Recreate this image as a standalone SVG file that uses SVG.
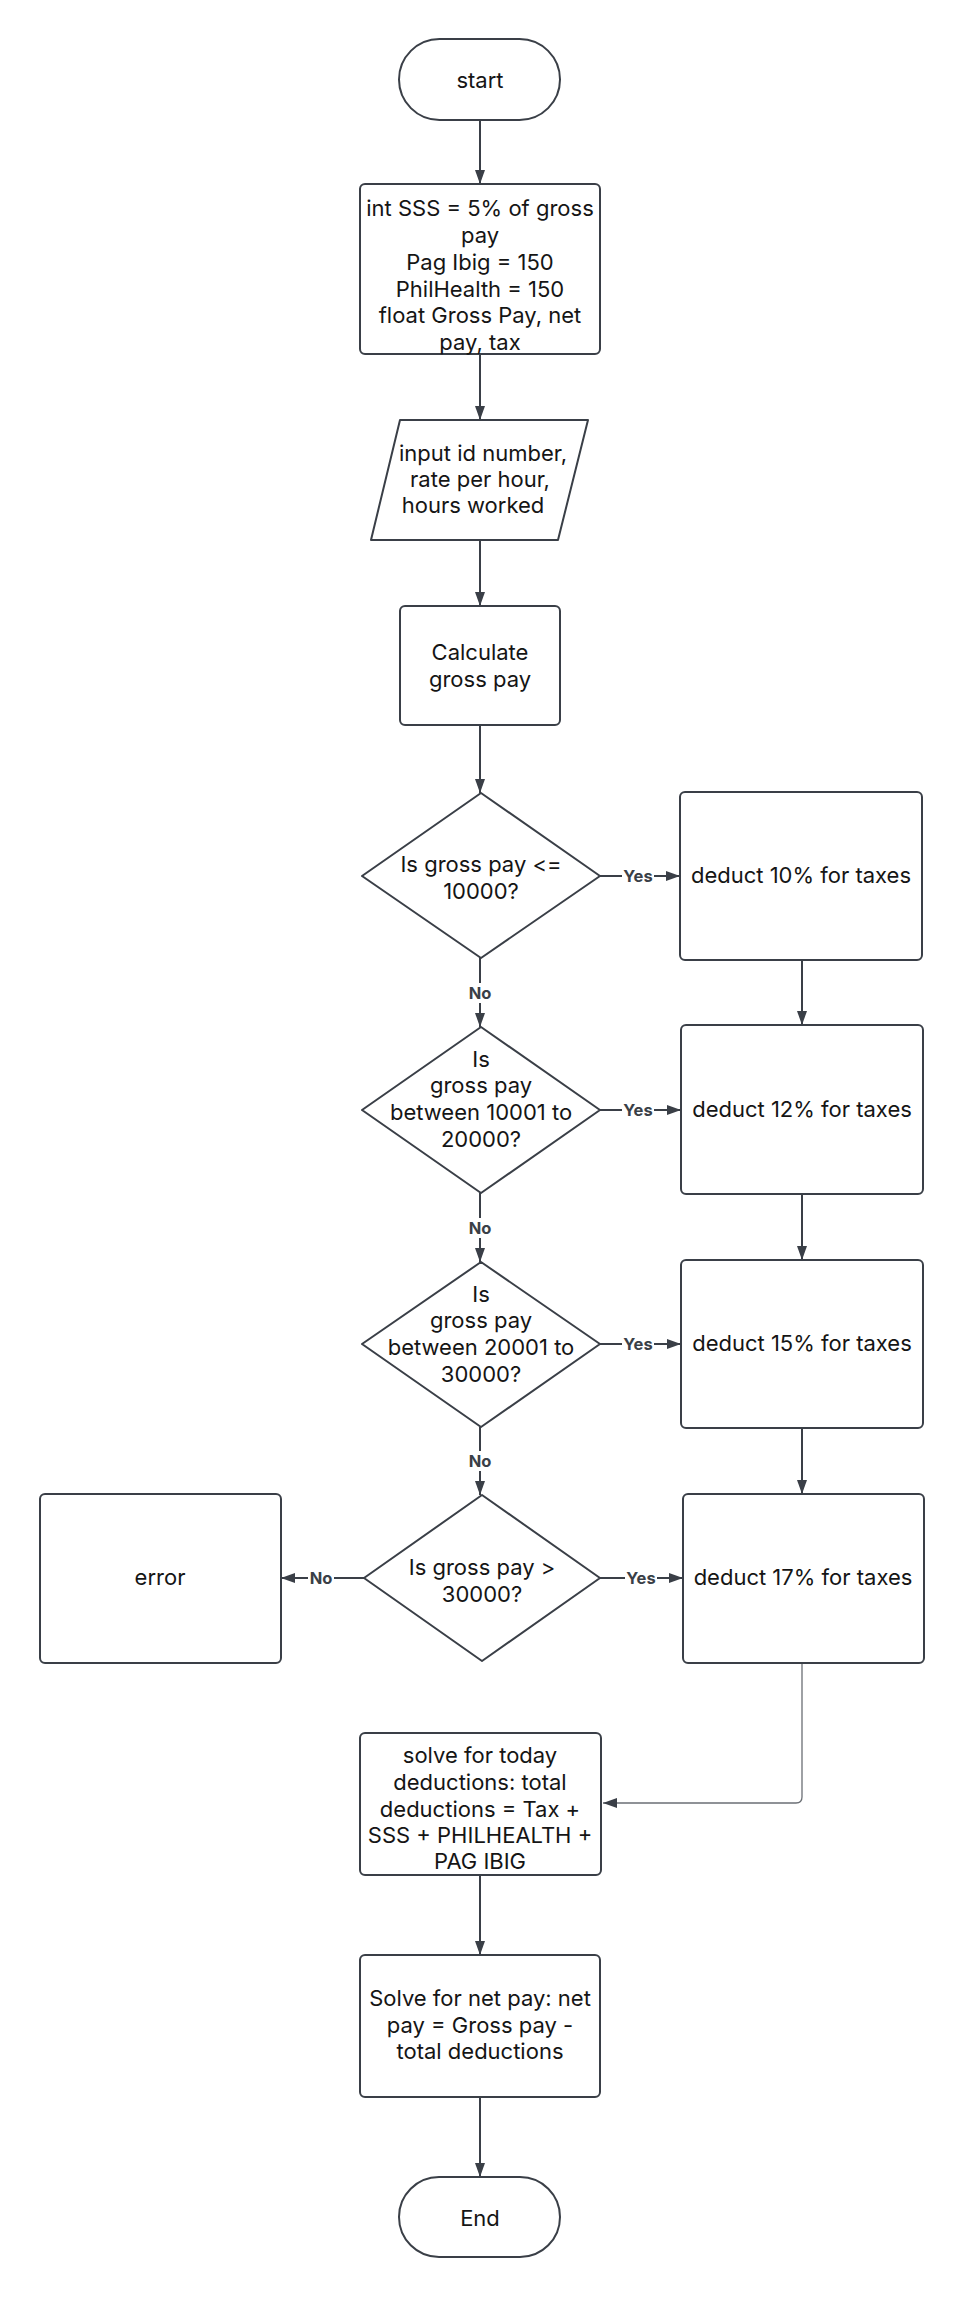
<svg xmlns="http://www.w3.org/2000/svg" width="960" height="2298" viewBox="0 0 960 2298">
  <defs>
    <marker id="arrow" markerUnits="userSpaceOnUse" markerWidth="16" markerHeight="12" refX="14" refY="5" orient="auto">
      <path d="M0,0 L14,5 L0,10 z" fill="#3a3f47"/>
    </marker>
    <style>
      .shape { fill: #ffffff; stroke: #3a3f47; stroke-width: 2; stroke-linejoin: round; }
      .txt { font-family: Inter, "Liberation Sans", sans-serif; font-size: 22px; fill: #151515; text-anchor: middle; }
      .conn { fill: none; stroke: #3a3f47; stroke-width: 2; }
      .thin { fill: none; stroke: #6b6f75; stroke-width: 1.3; }
      .lbl { font-family: Inter, "Liberation Sans", sans-serif; font-size: 16.5px; font-weight: bold; fill: #3a3f47; text-anchor: middle; }
      .lblbg { fill: #ffffff; }
    </style>
  </defs>
  <rect width="960" height="2298" fill="#ffffff"/>

  <!-- connectors -->
  <g id="connectors">
    <path class="conn" d="M480 120 V184" marker-end="url(#arrow)"/>
    <path class="conn" d="M480 354 V420" marker-end="url(#arrow)"/>
    <path class="conn" d="M480 540 V606" marker-end="url(#arrow)"/>
    <path class="conn" d="M480 725 V793" marker-end="url(#arrow)"/>

    <path class="conn" d="M600 876 H680" marker-end="url(#arrow)"/>
    <path class="conn" d="M480 958 V1027" marker-end="url(#arrow)"/>
    <path class="conn" d="M802 960 V1025" marker-end="url(#arrow)"/>

    <path class="conn" d="M600 1110 H681" marker-end="url(#arrow)"/>
    <path class="conn" d="M480 1193 V1262" marker-end="url(#arrow)"/>
    <path class="conn" d="M802 1194 V1260" marker-end="url(#arrow)"/>

    <path class="conn" d="M600 1344 H681" marker-end="url(#arrow)"/>
    <path class="conn" d="M480 1427 V1495" marker-end="url(#arrow)"/>
    <path class="conn" d="M802 1428 V1494" marker-end="url(#arrow)"/>

    <path class="conn" d="M600 1578 H683" marker-end="url(#arrow)"/>
    <path class="conn" d="M364 1578 H281" marker-end="url(#arrow)"/>

    <path class="thin" d="M802 1663 V1797 Q802 1803 796 1803 H603" marker-end="url(#arrow)"/>
    <path class="conn" d="M480 1875 V1955" marker-end="url(#arrow)"/>
    <path class="conn" d="M480 2097 V2177" marker-end="url(#arrow)"/>

    <!-- branch labels -->
    <rect class="lblbg" x="622" y="866" width="32" height="20"/>
    <text class="lbl" x="638" y="882">Yes</text>
    <rect class="lblbg" x="622" y="1100" width="32" height="20"/>
    <text class="lbl" x="638" y="1116">Yes</text>
    <rect class="lblbg" x="622" y="1334" width="32" height="20"/>
    <text class="lbl" x="638" y="1350">Yes</text>
    <rect class="lblbg" x="625" y="1568" width="32" height="20"/>
    <text class="lbl" x="641" y="1584">Yes</text>

    <rect class="lblbg" x="467" y="983" width="26" height="20"/>
    <text class="lbl" x="480" y="999">No</text>
    <rect class="lblbg" x="467" y="1218" width="26" height="20"/>
    <text class="lbl" x="480" y="1234">No</text>
    <rect class="lblbg" x="467" y="1451" width="26" height="20"/>
    <text class="lbl" x="480" y="1467">No</text>
    <rect class="lblbg" x="308" y="1568" width="26" height="20"/>
    <text class="lbl" x="321" y="1584">No</text>
  </g>

  <!-- nodes -->
  <g id="start">
    <rect class="shape" x="399" y="39" width="161" height="81" rx="40.5"/>
    <text class="txt" x="480" y="88">start</text>
  </g>

  <g id="declare">
    <rect class="shape" x="360" y="184" width="240" height="170" rx="5"/>
    <text class="txt" x="480" y="216">int SSS = 5% of gross</text>
    <text class="txt" x="480" y="243">pay</text>
    <text class="txt" x="480" y="270">Pag Ibig = 150</text>
    <text class="txt" x="480" y="297">PhilHealth = 150</text>
    <text class="txt" x="480" y="323">float Gross Pay, net</text>
    <text class="txt" x="480" y="350">pay, tax</text>
  </g>

  <g id="input">
    <path class="shape" d="M400 420 H588 L558 540 H371 Z"/>
    <text class="txt" x="483" y="461">input id number,</text>
    <text class="txt" x="480" y="487">rate per hour,</text>
    <text class="txt" x="473" y="513">hours worked</text>
  </g>

  <g id="calc">
    <rect class="shape" x="400" y="606" width="160" height="119" rx="5"/>
    <text class="txt" x="480" y="660">Calculate</text>
    <text class="txt" x="480" y="687">gross pay</text>
  </g>

  <g id="check1">
    <path class="shape" d="M481 793 L600 876 L481 958 L362 876 Z"/>
    <text class="txt" x="481" y="872">Is gross pay &lt;=</text>
    <text class="txt" x="481" y="899">10000?</text>
  </g>

  <g id="check2">
    <path class="shape" d="M481 1027 L600 1110 L481 1193 L362 1110 Z"/>
    <text class="txt" x="481" y="1067">Is</text>
    <text class="txt" x="481" y="1093">gross pay</text>
    <text class="txt" x="481" y="1120">between 10001 to</text>
    <text class="txt" x="481" y="1147">20000?</text>
  </g>

  <g id="check3">
    <path class="shape" d="M481 1262 L600 1344 L481 1427 L362 1344 Z"/>
    <text class="txt" x="481" y="1302">Is</text>
    <text class="txt" x="481" y="1328">gross pay</text>
    <text class="txt" x="481" y="1355">between 20001 to</text>
    <text class="txt" x="481" y="1382">30000?</text>
  </g>

  <g id="check4">
    <path class="shape" d="M482 1495 L600 1578 L482 1661 L364 1578 Z"/>
    <text class="txt" x="482" y="1575">Is gross pay &gt;</text>
    <text class="txt" x="482" y="1602">30000?</text>
  </g>

  <g id="tax10">
    <rect class="shape" x="680" y="792" width="242" height="168" rx="5"/>
    <text class="txt" x="801" y="883">deduct 10% for taxes</text>
  </g>

  <g id="tax12">
    <rect class="shape" x="681" y="1025" width="242" height="169" rx="5"/>
    <text class="txt" x="802" y="1117">deduct 12% for taxes</text>
  </g>

  <g id="tax15">
    <rect class="shape" x="681" y="1260" width="242" height="168" rx="5"/>
    <text class="txt" x="802" y="1351">deduct 15% for taxes</text>
  </g>

  <g id="tax17">
    <rect class="shape" x="683" y="1494" width="241" height="169" rx="5"/>
    <text class="txt" x="803" y="1585">deduct 17% for taxes</text>
  </g>

  <g id="error">
    <rect class="shape" x="40" y="1494" width="241" height="169" rx="5"/>
    <text class="txt" x="160" y="1585">error</text>
  </g>

  <g id="deductions">
    <rect class="shape" x="360" y="1733" width="241" height="142" rx="5"/>
    <text class="txt" x="480" y="1763">solve for today</text>
    <text class="txt" x="480" y="1790">deductions: total</text>
    <text class="txt" x="480" y="1817">deductions = Tax +</text>
    <text class="txt" x="480" y="1843">SSS + PHILHEALTH +</text>
    <text class="txt" x="480" y="1869">PAG IBIG</text>
  </g>

  <g id="netpay">
    <rect class="shape" x="360" y="1955" width="240" height="142" rx="5"/>
    <text class="txt" x="480" y="2006">Solve for net pay: net</text>
    <text class="txt" x="480" y="2033">pay = Gross pay -</text>
    <text class="txt" x="480" y="2059">total deductions</text>
  </g>

  <g id="end">
    <rect class="shape" x="399" y="2177" width="161" height="80" rx="40"/>
    <text class="txt" x="480" y="2226">End</text>
  </g>
</svg>
